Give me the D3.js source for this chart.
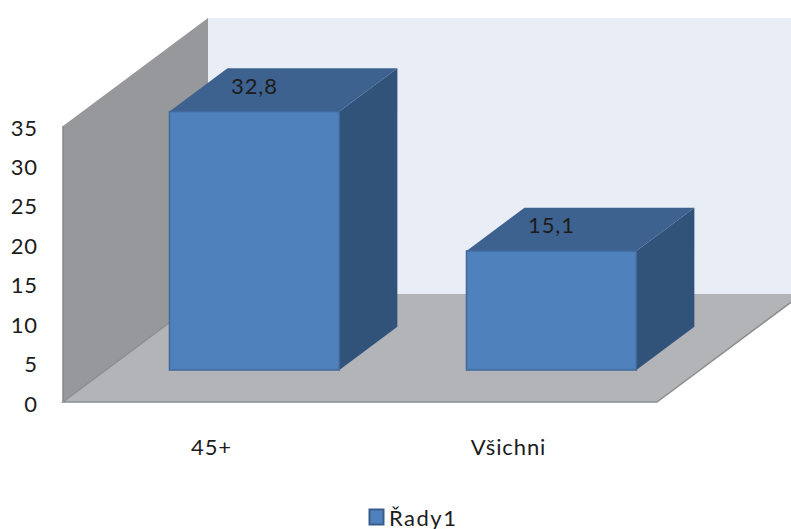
<!DOCTYPE html>
<html>
<head>
<meta charset="utf-8">
<script src="https://cdn.jsdelivr.net/npm/d3@7/dist/d3.min.js"></script>
<style>
html,body{margin:0;padding:0;background:#fff;overflow:hidden}
text{font-family:Lato,"Open Sans",sans-serif;fill:#1c1c1c;font-size:22px;letter-spacing:0.9px}
</style>
</head>
<body>
<svg id="chart" width="791" height="529"></svg>
<script>
// Chart content
const categories = ["45+", "Všichni"];
const values = [32.8, 15.1];
const valueLabels = ["32,8", "15,1"];
const yTicks = [0, 5, 10, 15, 20, 25, 30, 35];
const seriesName = "Řady1";

const svg = d3.select("#chart");
const x = d3.scaleBand().domain(categories).range([63, 657]);
const y = d3.scaleLinear().domain([0, 35]).range([402, 126]);
// Depth axis: 0 is the front of the floor, 1 is the back wall
const depthX = d3.scaleLinear().domain([0, 1]).range([0, 145]);
const depthY = d3.scaleLinear().domain([0, 1]).range([0, -108]);
const barWidthShare = 0.572;
const barFront = 0.296, barBack = 0.696;

// Projects chart coordinates (pixel x, value, depth) onto the page
const pt = (px, v, z) => [px + depthX(z), y(v) + depthY(z)];
const poly = pts => "M" + pts.map(p => p.join(",")).join("L") + "Z";
const xEnd = x.range()[1], xStart = x.range()[0], vMax = y.domain()[1];

const defs = svg.append("defs");
defs.append("clipPath").attr("id", "page")
  .append("rect").attr("width", 791).attr("height", 529);
const g = svg.append("g").attr("clip-path", "url(#page)");

// Back wall
g.append("path")
  .attr("d", poly([pt(xStart, 0, 1), pt(xStart, vMax, 1), pt(xEnd, vMax, 1), pt(xEnd, 0, 1)]))
  .attr("fill", "#e9edf6");
// Side wall
g.append("path")
  .attr("d", poly([pt(xStart, 0, 0), pt(xStart, vMax, 0), pt(xStart, vMax, 1), pt(xStart, 0, 1)]))
  .attr("fill", "#96989b");
g.append("path")
  .attr("d", `M${pt(xStart, 0, 0)}L${pt(xStart, vMax, 0)}`)
  .attr("stroke", "#85878a").attr("stroke-width", 1.5).attr("fill", "none");
// Floor
g.append("path")
  .attr("d", poly([pt(xStart, 0, 0), pt(xEnd, 0, 0), pt(xEnd, 0, 1), pt(xStart, 0, 1)]))
  .attr("fill", "#b2b4b7");
g.append("path")
  .attr("d", `M${pt(xStart, 0, 1)}L${pt(xStart, 0, 0)}L${pt(xEnd, 0, 0)}L${pt(xEnd, 0, 1)}`)
  .attr("fill", "none").attr("stroke", "#8c8e90").attr("stroke-width", 1.5);

// Bars
const bars = g.selectAll("g.bar")
  .data(categories.map((c, i) => ({c, v: values[i], label: valueLabels[i]})))
  .join("g").attr("class", "bar");

const bw = x.bandwidth() * barWidthShare;
const x0 = d => x(d.c) + (x.bandwidth() - bw) / 2;

bars.append("path") // right side
  .attr("d", d => poly([pt(x0(d) + bw, 0, barFront), pt(x0(d) + bw, d.v, barFront),
                        pt(x0(d) + bw, d.v, barBack), pt(x0(d) + bw, 0, barBack)]))
  .attr("fill", "#325379");
bars.append("path") // top
  .attr("d", d => poly([pt(x0(d), d.v, barFront), pt(x0(d) + bw, d.v, barFront),
                        pt(x0(d) + bw, d.v, barBack), pt(x0(d), d.v, barBack)]))
  .attr("fill", "#3d628f");
bars.append("path") // front
  .attr("d", d => poly([pt(x0(d), 0, barFront), pt(x0(d) + bw, 0, barFront),
                        pt(x0(d) + bw, d.v, barFront), pt(x0(d), d.v, barFront)]))
  .attr("fill", "#4f81bd").attr("stroke", "#41699b").attr("stroke-width", 1.5);

bars.append("text")
  .attr("x", d => pt(x0(d) + bw / 2, d.v, barFront)[0])
  .attr("y", d => pt(x0(d) + bw / 2, d.v, barFront)[1] - 26)
  .attr("text-anchor", "middle").attr("dominant-baseline", "central")
  .text(d => d.label);

// Value axis labels
g.selectAll("text.ytick").data(yTicks).join("text")
  .attr("class", "ytick")
  .attr("x", 38).attr("y", d => y(d) + 1)
  .attr("text-anchor", "end").attr("dominant-baseline", "central")
  .text(d => d);

// Category labels
g.selectAll("text.xtick").data(categories).join("text")
  .attr("class", "xtick")
  .attr("x", d => x(d) + x.bandwidth() / 2)
  .attr("y", 446)
  .attr("text-anchor", "middle").attr("dominant-baseline", "central")
  .text(d => d);

// Legend
g.append("rect").attr("x", 369.5).attr("y", 509.5).attr("width", 14).attr("height", 15)
  .attr("fill", "#4f81bd").attr("stroke", "#385d8a").attr("stroke-width", 2);
g.append("text").attr("x", 389).attr("y", 517)
  .attr("dominant-baseline", "central")
  .style("letter-spacing", "1.5px")
  .text(seriesName);
</script>
</body>
</html>
